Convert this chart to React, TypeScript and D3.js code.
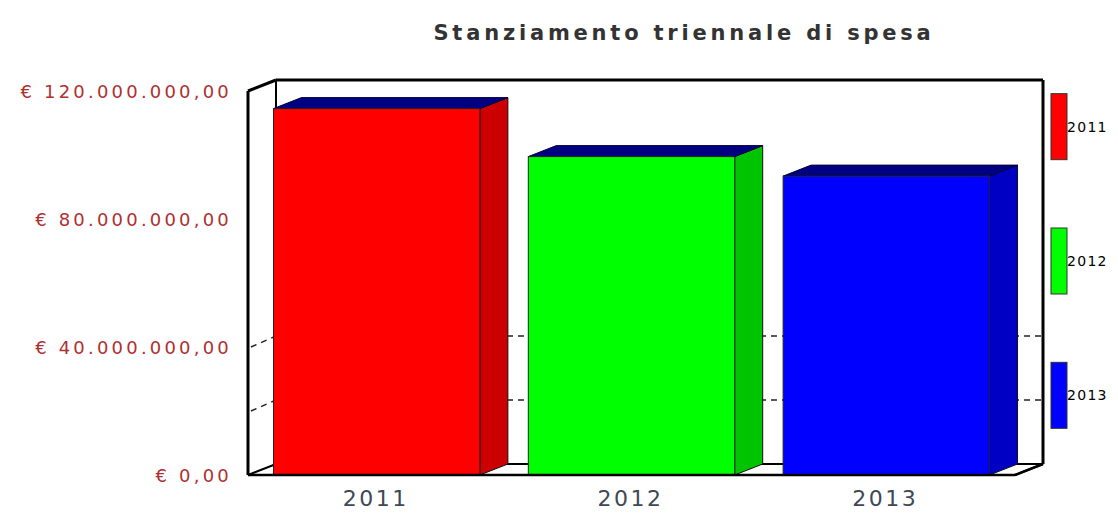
import React from "react";
import * as d3 from "d3";

const categories = ["2011", "2012", "2013"];
const values = [114500000, 99500000, 93400000];
const frontColors = ["#ff0000", "#00ff00", "#0000ff"];
const sideColors = ["#cc0000", "#00c400", "#0000c4"];
const topColor = "#000080";
const yTicks = [0, 40000000, 80000000, 120000000];
const gridValues = [20000000, 40000000];
const title = "Stanziamento triennale di spesa";

const W = 1118;
const H = 515;
const left = 248;
const right = 1015;
const bottom = 475;
const top = 91;
const DX = 28;
const DY = 11;

function fmtEuro(v: number): string {
  const intPart = Math.floor(v).toString().replace(/\B(?=(\d{3})+(?!\d))/g, ".");
  return "\u20AC " + intPart + ",00";
}

export default function App() {
  const x = d3.scaleBand<string>().domain(categories).range([left, right]).paddingInner(0.19).paddingOuter(0.1);
  const y = d3.scaleLinear().domain([0, 120000000]).range([bottom, top]);
  const legend = d3.scaleBand<string>().domain(categories).range([59.5, 462.5]);
  const bw = x.bandwidth();

  const backL = left + DX;
  const backR = right + DX;
  const backTop = top - DY;
  const backBottom = bottom - DY;

  return (
    <svg width={W} height={H} style={{ position: "absolute", left: 0, top: 0, background: "#fff" }}>
      <rect x={0} y={0} width={W} height={H} fill="#fff" />
      {/* title */}
      <text x={684} y={40} textAnchor="middle" fontFamily="DejaVu Sans" fontWeight="bold" fontSize={21} letterSpacing={3.8} fill="#333">
        {title}
      </text>
      {/* back wall */}
      <rect x={backL} y={backTop} width={backR - backL} height={backBottom - backTop} fill="#fff" />
      {/* left wall */}
      <polygon points={`${left},${top} ${backL},${backTop} ${backL},${backBottom} ${left},${bottom}`} fill="#fff" stroke="#000" strokeWidth={1} />
      {/* floor */}
      <polygon points={`${left},${bottom} ${backL},${backBottom} ${backR},${backBottom} ${right},${bottom}`} fill="#fff" stroke="#000" strokeWidth={2} />
      {/* gridlines */}
      {gridValues.map((v) => (
        <g key={v} stroke="#222" strokeWidth={1.5} strokeDasharray="6,5">
          <line x1={left + 3} y1={y(v)} x2={backL} y2={y(v) - DY} />
          <line x1={backL} y1={y(v) - DY} x2={backR} y2={y(v) - DY} />
        </g>
      ))}
      {/* back wall outline */}
      <line x1={backL} y1={backTop} x2={backR} y2={backTop} stroke="#000" strokeWidth={3} />
      <line x1={backR} y1={backTop} x2={backR} y2={backBottom} stroke="#000" strokeWidth={3} />
      <line x1={backL} y1={backTop} x2={backL} y2={backBottom} stroke="#000" strokeWidth={2} />
      <line x1={left} y1={top} x2={backL} y2={backTop} stroke="#000" strokeWidth={3} />
      <line x1={left} y1={top} x2={left} y2={bottom} stroke="#000" strokeWidth={3} />
      <line x1={right} y1={bottom} x2={backR} y2={backBottom} stroke="#000" strokeWidth={2.5} />
      {/* bars */}
      {categories.map((c, i) => {
        const x0 = x(c) as number;
        const x1 = x0 + bw;
        const yt = y(values[i]);
        return (
          <g key={c}>
            <polygon
              points={`${x1},${yt} ${x1 + DX},${yt - DY} ${x1 + DX},${bottom - DY} ${x1},${bottom}`}
              fill={sideColors[i]}
              stroke="#111"
              strokeWidth={1}
            />
            <polygon
              points={`${x0},${yt} ${x0 + DX},${yt - DY} ${x1 + DX},${yt - DY} ${x1},${yt}`}
              fill={topColor}
              stroke="#000040"
              strokeWidth={1}
            />
            <rect x={x0} y={yt} width={bw} height={bottom - yt} fill={frontColors[i]} stroke="#222" strokeWidth={1} />
          </g>
        );
      })}
      <line x1={left} y1={bottom} x2={right} y2={bottom} stroke="#000" strokeWidth={2.5} />
      {/* y labels */}
      {yTicks.map((t) => (
        <text key={t} x={232} y={y(t) + 6.5} textAnchor="end" fontFamily="DejaVu Sans" fontSize={18} letterSpacing={3.2} fill="#b03030">
          {fmtEuro(t)}
        </text>
      ))}
      {/* x labels */}
      {categories.map((c) => (
        <text key={c} x={(x(c) as number) + bw / 2 - 1} y={506} textAnchor="middle" fontFamily="DejaVu Sans" fontSize={22} letterSpacing={2.5} fill="#3e4856">
          {c}
        </text>
      ))}
      {/* legend */}
      {categories.map((c, i) => {
        const cy = (legend(c) as number) + legend.bandwidth() / 2;
        return (
          <g key={c}>
            <rect x={1051} y={cy - 33} width={16} height={66} fill={frontColors[i]} stroke="#333" strokeWidth={1} />
            <text x={1067} y={cy + 5} fontFamily="DejaVu Sans" fontSize={14} letterSpacing={1.3} fill="#000">
              {c}
            </text>
          </g>
        );
      })}
    </svg>
  );
}
